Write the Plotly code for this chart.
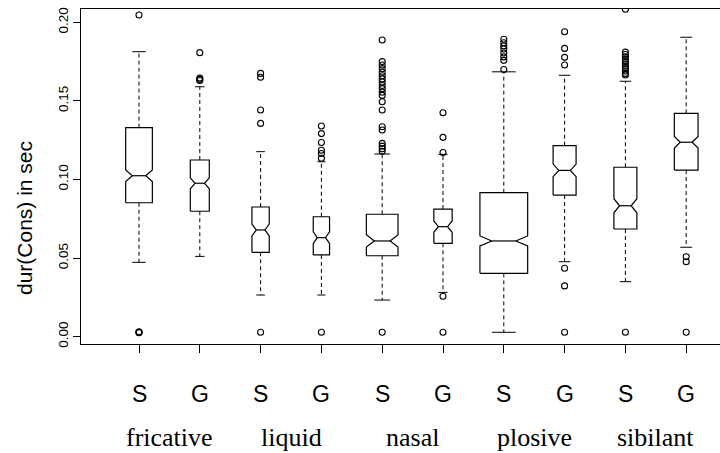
import numpy as np
import plotly.graph_objects as go

# Consonant duration by manner of articulation, two speaker groups each
categories = ["fricative", "liquid", "nasal", "plosive", "sibilant"]
groups = ["S", "G"]

q1 = [0.0852, 0.0798, 0.0537, 0.0520, 0.0515, 0.0594, 0.0403, 0.0901, 0.0685, 0.1060]
median = [0.1024, 0.0976, 0.0679, 0.0630, 0.0609, 0.0700, 0.0609, 0.1058, 0.0833, 0.1237]
q3 = [0.1330, 0.1124, 0.0825, 0.0763, 0.0779, 0.0812, 0.0916, 0.1215, 0.1078, 0.1421]
lower_whisker = [0.0473, 0.0511, 0.0265, 0.0265, 0.0233, 0.0282, 0.0028, 0.0477, 0.0350, 0.0569]
upper_whisker = [0.1813, 0.1590, 0.1177, 0.1113, 0.1162, 0.1160, 0.1685, 0.1663, 0.1625, 0.1905]
notch_half = [0.0037, 0.0035, 0.0038, 0.0037, 0.0039, 0.0036, 0.0032, 0.0040, 0.0045, 0.0037]
# relative box widths (proportional to sqrt of group size)
box_width = [0.439, 0.3125, 0.285, 0.268, 0.521, 0.301, 0.785, 0.378, 0.378, 0.390]

outliers = [
    [0.2046, 0.0025, 0.0028, 0.0031],
    [0.1807, 0.1630, 0.1637, 0.1645],
    [0.1675, 0.1650, 0.1442, 0.1357, 0.0028],
    [0.1340, 0.1292, 0.1235, 0.1186, 0.1165, 0.1135, 0.0028],
    [0.1887, 0.1750, 0.1728, 0.1705, 0.1683, 0.1660, 0.1640, 0.1620, 0.1598,
     0.1578, 0.1555, 0.1535, 0.1495, 0.1442, 0.1336, 0.1315, 0.1230, 0.1212,
     0.1195, 0.1180, 0.0028],
    [0.1425, 0.1268, 0.1172, 0.0257, 0.0028],
    [0.1892, 0.1870, 0.1850, 0.1830, 0.1805, 0.1780, 0.1758, 0.1700],
    [0.1940, 0.1834, 0.1777, 0.1728, 0.0435, 0.0323, 0.0028],
    [0.2083, 0.1810, 0.1795, 0.1780, 0.1765, 0.1750, 0.1735, 0.1720, 0.1705,
     0.1690, 0.1675, 0.1665, 0.0028],
    [0.0509, 0.0477, 0.0028],
]

y_ticks = [0.00, 0.05, 0.10, 0.15, 0.20]
y_title = "dur(Cons) in sec"

positions = np.arange(1, len(q1) + 1)
labels = [g for _ in categories for g in groups]

fig = go.Figure()

# dashed whiskers and solid staples (staple = half the box width)
wx, wy, sx, sy = [], [], [], []
for p, a, b, lo, hi, w in zip(positions, q1, q3, lower_whisker, upper_whisker, box_width):
    wx += [p, p, None, p, p, None]
    wy += [b, hi, None, a, lo, None]
    half = w / 4
    sx += [p - half, p + half, None, p - half, p + half, None]
    sy += [hi, hi, None, lo, lo, None]

fig.add_trace(go.Scatter(x=wx, y=wy, mode="lines",
                         line=dict(color="black", width=1, dash="4px,3px"),
                         hoverinfo="skip"))
fig.add_trace(go.Scatter(x=sx, y=sy, mode="lines",
                         line=dict(color="black", width=1), hoverinfo="skip"))

# notched box outlines; the notch narrows to half the box width at the median
bx, by = [], []
for p, a, m, b, n, w in zip(positions, q1, median, q3, notch_half, box_width):
    h = w / 2
    bx += [p - h, p - h, p - h / 2, p - h, p - h, p + h, p + h, p + h / 2,
           p + h, p + h, p - h, None, p - h / 2, p + h / 2, None]
    by += [a, m - n, m, m + n, b, b, m + n, m, m - n, a, a, None, m, m, None]

fig.add_trace(go.Scatter(x=bx, y=by, mode="lines",
                         line=dict(color="black", width=1.2), hoverinfo="skip"))

# outlying values
ox = [p for p, vals in zip(positions, outliers) for _ in vals]
oy = [v for vals in outliers for v in vals]
fig.add_trace(go.Scatter(x=ox, y=oy, mode="markers",
                         marker=dict(symbol="circle-open", size=6,
                                     color="black", line=dict(width=1.1)),
                         cliponaxis=True, hoverinfo="skip"))

# group letters and category names under the axis
annotations = []
for p, g in zip(positions, labels):
    annotations.append(dict(x=p, xref="x", y=-0.149, yref="paper", text=g,
                            showarrow=False, xanchor="center", yanchor="middle",
                            font=dict(family="Liberation Sans", size=23, color="black")))
for k, c in enumerate(categories):
    annotations.append(dict(x=(positions[2 * k] + positions[2 * k + 1]) / 2, xref="x",
                            y=-0.278, yref="paper", text=c, showarrow=False,
                            xanchor="center", yanchor="middle",
                            font=dict(family="Liberation Serif", size=26, color="black")))
annotations.append(dict(x=-0.0892, xref="paper", y=0.376, yref="paper", text=y_title,
                        textangle=-90, showarrow=False, xanchor="center", yanchor="middle",
                        font=dict(family="Liberation Sans", size=21, color="black")))

fig.update_layout(
    width=720, height=453,
    margin=dict(l=81, r=0, t=9, b=109),
    paper_bgcolor="white", plot_bgcolor="white",
    showlegend=False,
    annotations=annotations,
    xaxis=dict(range=[0.046, 10.556], tickvals=positions, showticklabels=False,
               ticks="outside", ticklen=8, tickwidth=1, tickcolor="black",
               showline=True, linecolor="black", linewidth=1, mirror=True,
               showgrid=False, zeroline=False),
    yaxis=dict(range=[-0.00465, 0.20846], tickvals=y_ticks,
               ticktext=[f"{v:.2f}" for v in y_ticks], tickangle=-90,
               ticks="outside", ticklen=7, tickwidth=1, tickcolor="black",
               tickfont=dict(family="Liberation Sans", size=13.5, color="black"),
               showline=True, linecolor="black", linewidth=1,
               showgrid=False, zeroline=False),
)

fig.write_html("out.html")
